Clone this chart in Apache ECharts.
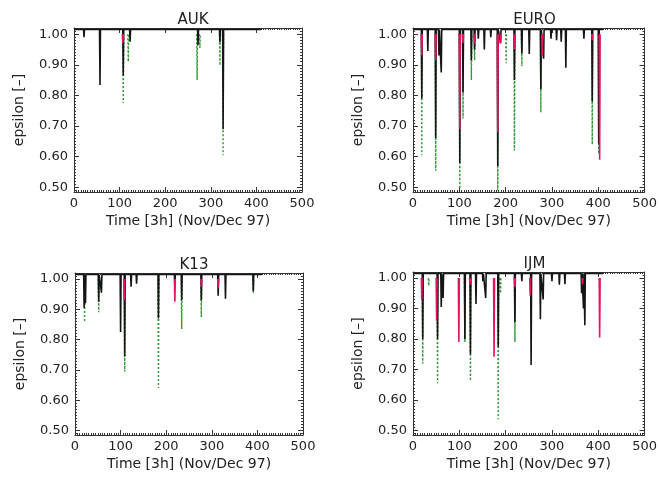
<!DOCTYPE html>
<html><head><meta charset="utf-8">
<script src="https://cdn.jsdelivr.net/npm/echarts@6/dist/echarts.min.js"></script>
<style>html,body{margin:0;padding:0;background:#fff}#c{width:660px;height:481px}</style>
</head><body><div id="c"></div>
<script>
// ---- data (time [3h], epsilon minimum of each dip) ----
const panelNames = ['AUK', 'EURO', 'K13', 'IJM'];
const xTickLabels = [0, 100, 200, 300, 400, 500];
const yTickLabels = [0.50, 0.60, 0.70, 0.80, 0.90, 1.00];
const baseBlack = 1.015;     // undisturbed level of the black curve
const baseColour = 1.00;     // start level of red / green dips
const seriesEnd = 410;       // last time step

const aukBlack = [[22,0.99],[57,0.834],[108,0.865],[123,0.975],[272,0.965],[320,0.974],[327,0.69]];
const aukGreen = [[108,0.775],[119,0.91],[270,0.85],[276,0.955],[320,0.898],[327,0.605]];
const aukRed   = [[107,0.97]];

const euroBlack = [[19,0.79],[32,0.945],[49,0.66],[56,0.93],[61,0.875],[101,0.58],[108,0.81],[126,0.915],[133,0.95],[141,0.985],[154,0.95],[168,0.99],[183,0.57],[189,0.97],[219,0.85],[235,0.937],[251,0.935],[276,0.82],[282,0.92],[298,0.985],[310,0.98],[320,0.975],[330,0.89],[369,0.985],[387,0.78],[401,0.64]];
const euroGreen = [[19,0.605],[49,0.555],[101,0.495],[108,0.725],[126,0.85],[133,0.915],[183,0.49],[201,0.905],[219,0.62],[235,0.895],[276,0.745],[387,0.64],[401,0.61]];
const euroRed   = [[19,0.93],[49,0.915],[101,0.69],[108,0.97],[133,0.97],[183,0.68],[189,0.97],[219,0.95],[279,0.93],[387,0.98],[403,0.59]];

const k13Black = [[20,0.905],[23,0.92],[52,0.925],[58,0.955],[100,0.825],[109,0.745],[123,0.975],[135,0.985],[183,0.87],[219,0.98],[234,0.93],[277,0.93],[314,0.945],[330,0.935],[391,0.96]];
const k13Green = [[21,0.858],[52,0.89],[109,0.695],[183,0.64],[234,0.835],[277,0.875],[391,0.955]];
const k13Red   = [[108,0.93],[219,0.925],[277,0.975],[314,0.97]];

const ijmBlack = [[21,0.80],[53,0.80],[61,0.905],[65,0.935],[112,0.80],[124,0.75],[136,0.915],[151,0.99],[157,0.935],[184,0.775],[220,0.855],[235,0.99],[255,0.715],[275,0.865],[281,0.93],[300,0.99],[316,0.978],[328,0.98],[364,0.95],[368,0.90],[371,0.845]];
const ijmGreen = [[21,0.72],[34,0.975],[53,0.655],[112,0.79],[124,0.663],[184,0.537],[189,0.95],[220,0.79]];
const ijmRed   = [[19,0.93],[51,0.86],[99,0.79],[123,0.98],[175,0.742],[220,0.97],[253,0.942],[366,0.98],[403,0.805]];

const blackData = [aukBlack, euroBlack, k13Black, ijmBlack];
const greenData = [aukGreen, euroGreen, k13Green, ijmGreen];
const redData   = [aukRed, euroRed, k13Red, ijmRed];

// ---- layout ----
const grids = [
  {left: 74, top: 28, width: 228, height: 164},
  {left: 413, top: 28, width: 233, height: 164},
  {left: 75, top: 273, width: 228, height: 162},
  {left: 413, top: 272, width: 233, height: 163}
];
const FONT = 'DejaVu Sans';
const TXT = '#222';
const AX = '#333';
const yMinorTicks = [];
for (let k = 49; k <= 101; k++) yMinorTicks.push(k / 100);

function blackLine(sp) {
  const d = [[0, baseBlack]];
  sp.forEach(([t, v]) => { d.push([t - 1, baseBlack], [t, v], [t + 1, baseBlack]); });
  d.push([seriesEnd, baseBlack]);
  return d;
}
function dips(sp) {
  const d = [];
  sp.forEach(([t, v]) => { d.push([t - 1, baseColour], [t, v], [t + 1, baseColour], [t + 1, '-']); });
  return d;
}

const title = [], xAxis = [], yAxis = [], series = [];
grids.forEach((g, i) => {
  title.push({text: panelNames[i], left: g.left + g.width / 2, top: g.top - 20, textAlign: 'center',
    textStyle: {fontFamily: FONT, fontSize: 15, fontWeight: 'normal', color: TXT}});
  const yBase = {gridIndex: i, type: 'value', min: 0.485, max: 1.02, splitLine: {show: false},
    axisLine: {show: true, onZero: false, lineStyle: {color: AX, width: 1}}};
  const xBase = {gridIndex: i, type: 'value', min: 0, max: 500, interval: 100, splitLine: {show: false},
    axisLine: {show: true, onZero: false, lineStyle: {color: AX, width: 1}},
    axisTick: {show: true, inside: true, length: 5, lineStyle: {color: AX}},
    minorTick: {show: true, splitNumber: 20, length: 2, lineStyle: {color: AX}}, minorSplitLine: {show: false}};
  xAxis.push(Object.assign({}, xBase, {position: 'bottom',
    name: 'Time [3h] (Nov/Dec 97)', nameLocation: 'middle', nameGap: 22,
    nameTextStyle: {fontFamily: FONT, fontSize: 14, color: TXT},
    axisLabel: {show: true, margin: 5, fontFamily: FONT, fontSize: 13, color: TXT}}));
  xAxis.push(Object.assign({}, xBase, {position: 'top', axisLabel: {show: false}}));
  yAxis.push(Object.assign({}, yBase, {position: 'left',
    name: 'epsilon [–]', nameLocation: 'middle', nameGap: 48,
    nameTextStyle: {fontFamily: FONT, fontSize: 14, color: TXT},
    axisTick: {show: true, inside: true, length: 5, customValues: yTickLabels, lineStyle: {color: AX}},
    axisLabel: {show: true, margin: 6, customValues: yTickLabels, fontFamily: FONT, fontSize: 13, color: TXT,
      formatter: v => Number(v).toFixed(2)}}));
  yAxis.push(Object.assign({}, yBase, {position: 'left', axisLine: {show: false, onZero: false},
    axisTick: {show: true, inside: true, length: 2, customValues: yMinorTicks, lineStyle: {color: AX}},
    axisLabel: {show: false}}));
  yAxis.push(Object.assign({}, yBase, {position: 'right',
    axisTick: {show: true, inside: true, length: 5, customValues: yTickLabels, lineStyle: {color: AX}},
    axisLabel: {show: false}}));
  yAxis.push(Object.assign({}, yBase, {position: 'right', axisLine: {show: false, onZero: false},
    axisTick: {show: true, inside: true, length: 2, customValues: yMinorTicks, lineStyle: {color: AX}},
    axisLabel: {show: false}}));
  const common = {type: 'line', xAxisIndex: 2 * i, yAxisIndex: 4 * i, symbol: 'none', silent: true,
    animation: false, connectNulls: false, clip: true};
  series.push(Object.assign({}, common, {name: panelNames[i] + ' green', data: dips(greenData[i]),
    lineStyle: {color: '#2f9a35', width: 1.4, type: [2, 2]}}));
  series.push(Object.assign({}, common, {name: panelNames[i] + ' black', data: blackLine(blackData[i]),
    lineStyle: {color: '#151515', width: 1.6}}));
  series.push(Object.assign({}, common, {name: panelNames[i] + ' red', data: dips(redData[i]),
    lineStyle: {color: '#e3145a', width: 1.6}}));
});

const chart = echarts.init(document.getElementById('c'), null, {renderer: 'canvas'});
chart.setOption({animation: false, backgroundColor: '#fff', title, grid: grids, xAxis, yAxis, series});
</script></body></html>
